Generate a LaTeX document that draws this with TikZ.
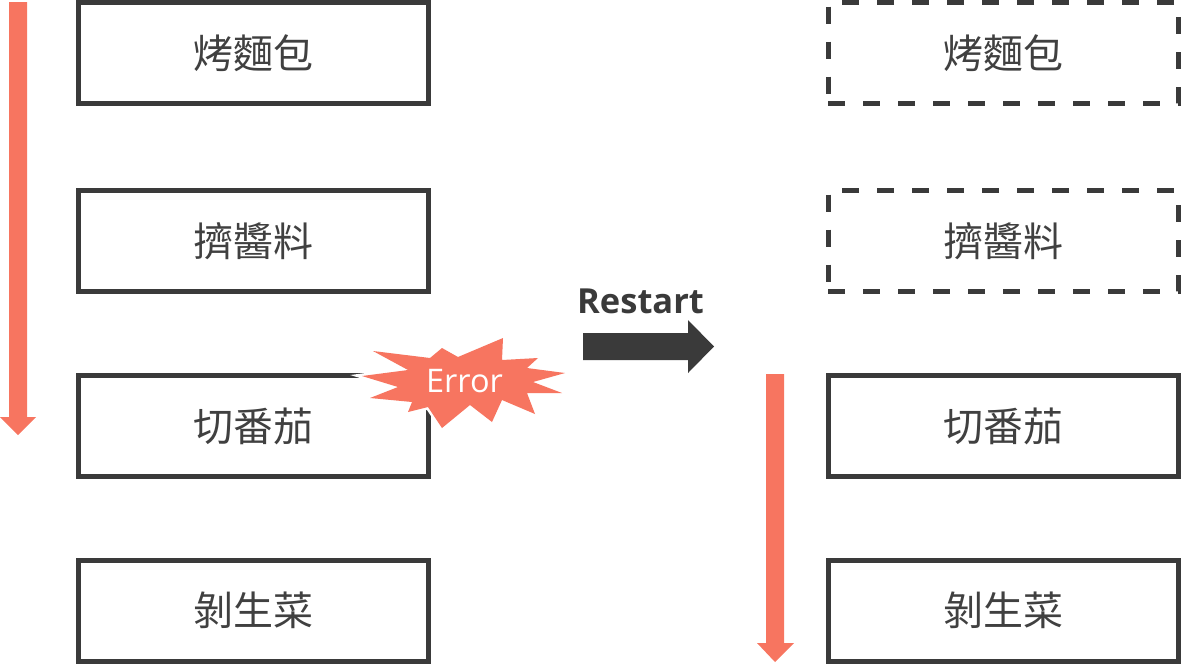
\documentclass[tikz,border=0pt]{standalone}
\usepackage{fontspec}
\newfontfamily\cjk{Noto Sans CJK TC}
\newfontfamily\osans{Open Sans}
\newfontfamily\osansb{Open Sans Bold}
\definecolor{salmon}{HTML}{F77560}
\definecolor{dgray}{HTML}{3A3A3A}
\definecolor{tgray}{HTML}{404040}
\tikzset{
  stepbox/.style={draw=dgray, line width=5pt, minimum width=350pt, minimum height=101pt, inner sep=0pt,
    font=\cjk\fontsize{40}{48}\selectfont, text=tgray},
  dashbox/.style={stepbox, dash pattern=on 17pt off 18pt},
  bigarrow/.style={fill=salmon, draw=none},
}
\begin{document}
\begin{tikzpicture}[x=1pt,y=-1pt]
\useasboundingbox (0,0) rectangle (1182,665);
% left column
\node[stepbox] (l1) at (253.5,53) {烤麵包};
\node[stepbox] (l2) at (253.5,241) {擠醬料};
\node[stepbox] (l3) at (253.5,426) {切番茄};
\node[stepbox] (l4) at (253.5,610.5) {剝生菜};
% right column
\node[dashbox] (r1) at (1003,53) {烤麵包};
\node[dashbox] (r2) at (1003,241) {擠醬料};
\node[stepbox] (r3) at (1003,426) {切番茄};
\node[stepbox] (r4) at (1003,610.5) {剝生菜};
% left progress arrow
\fill[bigarrow] (9,2) -- (27,2) -- (27,417) -- (36,417) -- (18,435) -- (0,417) -- (9,417) -- cycle;
% right progress arrow
\fill[bigarrow] (766,374) -- (784,374) -- (784,643) -- (794,643) -- (775,662) -- (757,643) -- (766,643) -- cycle;
% restart arrow
\fill[dgray] (583,333) -- (688,333) -- (688,320) -- (714,346.5) -- (688,373) -- (688,360) -- (583,360) -- cycle;
\node[font=\osansb\fontsize{34.5}{40}\selectfont, text=dgray, anchor=base west, inner sep=0pt] (rs) at (577,313) {Restart};
% error burst
\def\burst{(362,376) -- (408,370) -- (373,351) -- (430,358) -- (442,348) -- (458,357) -- (503,338) -- (502,360)
 -- (538,358) -- (527,368) -- (565,373) -- (533,382) -- (562,393) -- (527,393) -- (535,414) -- (502,400)
 -- (492,422) -- (470,405) -- (442,428) -- (428,407) -- (408,412) -- (412,402) -- (370,398) -- (398,387) -- cycle}
\draw[white, line width=5pt, line join=miter] \burst;
\fill[salmon] \burst;
\node[font=\osans\fontsize{32.5}{38}\selectfont, text=white, inner sep=0pt] (err) at (464.5,381) {Error};
\end{tikzpicture}
\end{document}
